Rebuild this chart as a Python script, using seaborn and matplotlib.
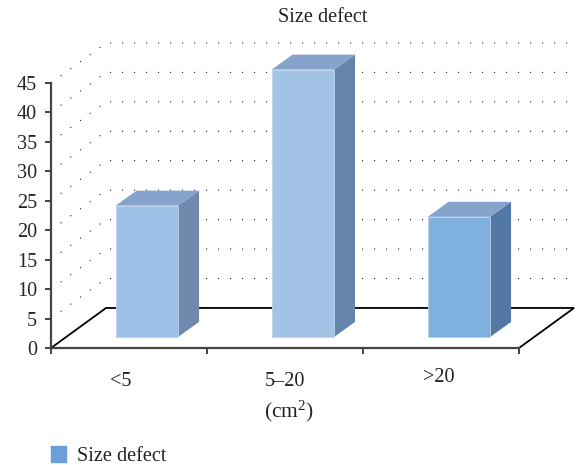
import matplotlib
matplotlib.use('Agg')
import matplotlib.pyplot as plt
from matplotlib.patches import Polygon, Patch
import pandas as pd
import seaborn as sns

categories = ['<5', '5–20', '>20']
values = [22.3, 45.4, 20.4]
front_colors = ['#9dc0e6', '#a2c3e6', '#80b1de']
side_colors = ['#7089ad', '#6684aa', '#5378a5']
top_colors = ['#86a3cc', '#86a3cc', '#86a3cc']
yticks = [0, 5, 10, 15, 20, 25, 30, 35, 40, 45]
label_shift = [-8, 0, -2]
label_drop = [33, 33, 29]

# fake 3d depth, in data units
floor_dx, floor_dy = 0.353, 6.8
bar_dx, bar_dy = 0.135, 2.55
bar_x, bar_y = 0.114, 1.87

sns.set_style('white')
plt.rcParams['font.family'] = ['Liberation Serif', 'DejaVu Serif']
plt.rcParams['mathtext.default'] = 'regular'

fig = plt.figure(figsize=(5.76, 4.65), dpi=100)
ax = fig.add_axes([51/576, 117/465, 468/576, 265/465])

df = pd.DataFrame({'size': categories, 'pct': values})
sns.barplot(x='size', y='pct', data=df, hue='size', palette=front_colors, width=0.4,
            bottom=bar_y, saturation=1, legend=False, ax=ax, zorder=5,
            edgecolor='#bcd3ec', linewidth=0.6)
ax.set_xlim(-0.5, 2.5)
ax.set_ylim(0, 45)

# back wall + side wall gridlines
for y in yticks[1:]:
    ax.plot([-0.5, -0.5+floor_dx, 2.5+floor_dx], [y, y+floor_dy, y+floor_dy], color='#222222',
            lw=0.8, ls=(0, (1, 9.8)), clip_on=False, zorder=1)

# floor
ax.add_patch(Polygon([(-0.5, 0), (-0.5+floor_dx, floor_dy), (2.5+floor_dx, floor_dy), (2.5, 0)],
                     closed=True, fc='white', ec='black', lw=1.3, clip_on=False, zorder=2))

# side and top faces from the bars
for i, bar in enumerate(ax.patches[:3]):
    bar.set_x(bar.get_x()+bar_x)
    bar.set_clip_on(False)
    x0 = bar.get_x()
    x1 = x0+bar.get_width()
    y0 = bar.get_y()
    y1 = y0+bar.get_height()
    ax.add_patch(Polygon([(x1, y0), (x1+bar_dx, y0+bar_dy), (x1+bar_dx, y1+bar_dy), (x1, y1)],
                         fc=side_colors[i], ec='none', clip_on=False, zorder=4))
    ax.add_patch(Polygon([(x0, y1), (x0+bar_dx, y1+bar_dy), (x1+bar_dx, y1+bar_dy), (x1, y1)],
                         fc=top_colors[i], ec='none', clip_on=False, zorder=4))

for s in ['top', 'right']:
    ax.spines[s].set_visible(False)
for s in ['left', 'bottom']:
    ax.spines[s].set_color('#444444')
    ax.spines[s].set_linewidth(1.6)
    ax.spines[s].set_zorder(6)

ax.set_yticks(yticks)
ax.set_xticks([-0.5, 0.5, 1.5, 2.5])
ax.set_xticklabels([])
ax.tick_params(axis='both', length=4, width=1.4, color='#444444', direction='out',
               left=True, bottom=True, labelsize=14.6, pad=6)
ax.set_xlabel('')
ax.set_ylabel('')

for i, c in enumerate(categories):
    ax.annotate(c, xy=(i, 0), xytext=(label_shift[i]*0.72, -label_drop[i]*0.72), textcoords='offset points',
                ha='center', va='center', fontsize=14.6, color='#222222')
ax.annotate('(cm$^2$)', xy=(1, 0), xytext=(4*0.72, -63*0.72), textcoords='offset points',
            ha='center', va='center', fontsize=15.5, color='#222222')

fig.text(323/576, 1-18/465, 'Size defect', ha='center', va='center', fontsize=14.6, color='#222222')
fig.legend(handles=[Patch(color='#6a9fd8', label='Size defect')], loc='center left',
           bbox_to_anchor=(51/576, 1-456/465), frameon=False, fontsize=14.6, handlelength=0.74,
           handleheight=0.8, handletextpad=0.55, borderpad=0, borderaxespad=0, labelcolor='#222222')

plt.savefig('out.png', dpi=100)
